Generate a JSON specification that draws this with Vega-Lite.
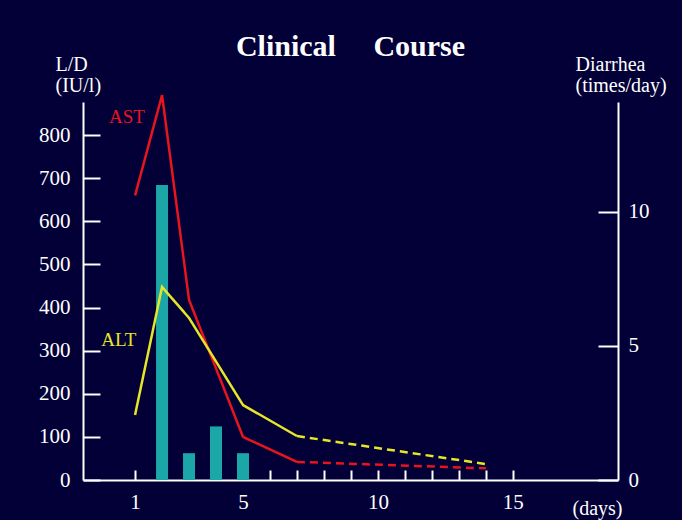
{
  "$schema": "https://vega.github.io/schema/vega-lite/v6.json",
  "width": 535,
  "height": 378,
  "autosize": "none",
  "padding": {"left": 83, "top": 102, "right": 64, "bottom": 40},
  "background": "#020037",
  "title": {
    "text": "Clinical\u00a0\u00a0\u00a0\u00a0\u00a0Course",
    "frame": "group",
    "anchor": "middle",
    "font": "Liberation Serif",
    "fontSize": 30,
    "fontWeight": "bold",
    "color": "white",
    "offset": -8
  },
  "datasets": {
    "lab": [
      {"day": 1, "test": "AST", "value": 660, "seg": "solid"},
      {"day": 2, "test": "AST", "value": 893, "seg": "solid"},
      {"day": 3, "test": "AST", "value": 418, "seg": "solid"},
      {"day": 5, "test": "AST", "value": 100, "seg": "solid"},
      {"day": 7, "test": "AST", "value": 42, "seg": "solid"},
      {"day": 7, "test": "AST", "value": 42, "seg": "dashed"},
      {"day": 14, "test": "AST", "value": 27, "seg": "dashed"},
      {"day": 1, "test": "ALT", "value": 151, "seg": "solid"},
      {"day": 2, "test": "ALT", "value": 448, "seg": "solid"},
      {"day": 3, "test": "ALT", "value": 376, "seg": "solid"},
      {"day": 5, "test": "ALT", "value": 174, "seg": "solid"},
      {"day": 7, "test": "ALT", "value": 102, "seg": "solid"},
      {"day": 7, "test": "ALT", "value": 102, "seg": "dashed"},
      {"day": 14, "test": "ALT", "value": 37, "seg": "dashed"}
    ],
    "diarrhea": [
      {"day": 2, "times": 11},
      {"day": 3, "times": 1},
      {"day": 4, "times": 2},
      {"day": 5, "times": 1}
    ],
    "labels": [
      {"day": 0.7, "value": 842, "test": "AST"},
      {"day": 0.4, "value": 325, "test": "ALT"}
    ]
  },
  "encoding": {
    "x": {
      "field": "day",
      "type": "quantitative",
      "scale": {"domain": [-0.93, 18.9], "nice": false, "zero": false, "padding": 0},
      "axis": {
        "values": [1, 2, 3, 4, 5, 6, 7, 8, 9, 10, 11, 12, 13, 14, 15],
        "labelExpr": "datum.value == 1 || datum.value % 5 == 0 ? datum.label : ''",
        "tickSize": -10,
        "labelPadding": 21,
        "labelBaseline": "top",
        "title": "(days)",
        "titleX": 514,
        "titleY": 28,
        "titleAlign": "center",
        "titleBaseline": "middle"
      }
    }
  },
  "layer": [
    {
      "data": {"name": "diarrhea"},
      "mark": {"type": "bar", "size": 12, "color": "#1ba6a8"},
      "encoding": {
        "y": {
          "field": "times",
          "type": "quantitative",
          "scale": {"domain": [0, 14.1], "nice": false},
          "axis": {
            "orient": "right",
            "values": [0, 5, 10],
            "tickSize": -20,
            "labelPadding": 30,
            "labelAlign": "left",
            "title": ["Diarrhea", "(times/day)"],
            "titleAngle": 0,
            "titleAlign": "left",
            "titleBaseline": "bottom",
            "titleX": -43,
            "titleY": -28
          }
        }
      }
    },
    {
      "layer": [
        {
          "data": {"name": "lab"},
          "mark": {"type": "line", "strokeWidth": 2.5},
          "encoding": {
            "y": {
              "field": "value",
              "type": "quantitative",
              "scale": {"domain": [0, 877], "nice": false},
              "axis": {
                "orient": "left",
                "values": [0, 100, 200, 300, 400, 500, 600, 700, 800],
                "tickSize": -17,
                "labelPadding": 30,
                "title": ["L/D", "(IU/l)"],
                "titleAngle": 0,
                "titleAlign": "left",
                "titleBaseline": "bottom",
                "titleX": -28,
                "titleY": -28
              }
            },
            "color": {
              "field": "test",
              "type": "nominal",
              "scale": {"domain": ["AST", "ALT"], "range": ["#e8141e", "#e6e628"]},
              "legend": null
            },
            "strokeDash": {
              "field": "seg",
              "type": "nominal",
              "scale": {"domain": ["solid", "dashed"], "range": [[1, 0], [8, 5]]},
              "legend": null
            }
          }
        },
        {
          "data": {"name": "labels"},
          "mark": {"type": "text", "font": "Liberation Serif", "fontSize": 19, "align": "center", "baseline": "middle"},
          "encoding": {
            "y": {"field": "value", "type": "quantitative"},
            "text": {"field": "test"},
            "color": {
              "field": "test",
              "type": "nominal",
              "scale": {"domain": ["AST", "ALT"], "range": ["#c8101a", "#e6e628"]},
              "legend": null
            }
          }
        }
      ]
    }
  ],
  "resolve": {"scale": {"y": "independent"}},
  "config": {
    "view": {"stroke": null},
    "axis": {
      "grid": false,
      "domainColor": "white",
      "domainWidth": 2,
      "tickColor": "white",
      "tickWidth": 2,
      "labelColor": "white",
      "labelFont": "Liberation Serif",
      "labelFontSize": 21,
      "titleColor": "white",
      "titleFont": "Liberation Serif",
      "titleFontSize": 20,
      "titleFontWeight": "normal",
      "titleLineHeight": 21
    }
  }
}
